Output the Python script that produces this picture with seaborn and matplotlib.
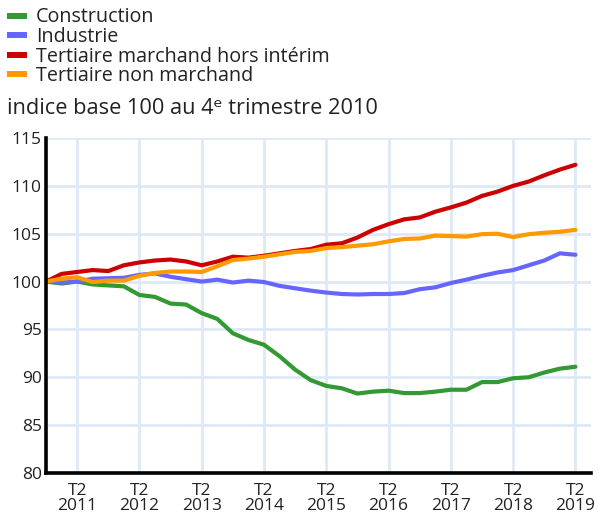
import matplotlib
matplotlib.use("Agg")
import matplotlib.pyplot as plt
import seaborn as sns
import pandas as pd
from matplotlib.patches import Rectangle

# ---- data (quarterly index, base 100 = Q4 2010) ----
quarters = list(range(35))  # 0 = T4 2010 ... 34 = T2 2019
construction = [100.0, 99.8, 100.0, 99.7, 99.6, 99.5, 98.6, 98.4, 97.7, 97.6,
                96.7, 96.1, 94.6, 93.9, 93.4, 92.2, 90.8, 89.7, 89.1, 88.85,
                88.3, 88.5, 88.6, 88.35, 88.35, 88.5, 88.7, 88.7, 89.5, 89.5,
                89.9, 90.0, 90.5, 90.9, 91.1]
industrie = [100.0, 99.9, 100.0, 100.3, 100.35, 100.4, 100.7, 100.85, 100.5, 100.25,
             100.0, 100.2, 99.9, 100.1, 99.95, 99.55, 99.3, 99.05, 98.85, 98.7,
             98.65, 98.7, 98.7, 98.8, 99.2, 99.4, 99.85, 100.2, 100.6, 100.95,
             101.2, 101.7, 102.2, 102.95, 102.8]
tertiaire_marchand = [100.0, 100.8, 101.0, 101.2, 101.1, 101.7, 102.0, 102.2, 102.3, 102.1,
                      101.7, 102.1, 102.6, 102.5, 102.7, 102.95, 103.2, 103.4, 103.85, 104.0,
                      104.6, 105.4, 106.0, 106.5, 106.7, 107.3, 107.75, 108.25, 108.95, 109.4,
                      110.0, 110.45, 111.1, 111.7, 112.2]
tertiaire_non_marchand = [100.0, 100.3, 100.45, 99.95, 100.1, 100.1, 100.6, 100.9, 101.05, 101.05,
                          101.0, 101.6, 102.25, 102.4, 102.6, 102.85, 103.1, 103.2, 103.5, 103.6,
                          103.75, 103.9, 104.2, 104.45, 104.5, 104.8, 104.75, 104.7, 104.95, 105.0,
                          104.65, 104.95, 105.1, 105.2, 105.4]
series_names = ["Construction", "Industrie", "Tertiaire marchand hors intérim",
                "Tertiaire non marchand"]
colors = ["#339933", "#6666ff", "#cc0000", "#ff9900"]
xtick_pos = [2, 6, 10, 14, 18, 22, 26, 30, 34]
xtick_labels = ["T2\n2011", "T2\n2012", "T2\n2013", "T2\n2014", "T2\n2015",
                "T2\n2016", "T2\n2017", "T2\n2018", "T2\n2019"]
ytick_vals = [80, 85, 90, 95, 100, 105, 110, 115]
title = "indice base 100 au 4ᵉ trimestre 2010"

# ---- build long table ----
all_vals = [construction, industrie, tertiaire_marchand, tertiaire_non_marchand]
rows = []
for name, vals in zip(series_names, all_vals):
    for q, v in zip(quarters, vals):
        rows.append({"q": q, "v": v, "serie": name})
df = pd.DataFrame(rows)

sns.set_style("white")
plt.rcParams["font.family"] = ["Open Sans", "DejaVu Sans"]

W, H = 598, 522
fig = plt.figure(figsize=(W / 100, H / 100), dpi=100)
ax = fig.add_axes([46 / W, (H - 473) / H, 545 / W, 335 / H])

sns.lineplot(data=df, x="q", y="v", hue="serie", hue_order=series_names,
             palette=colors, linewidth=3.0, legend=False, ax=ax, zorder=3)

ax.set_xlim(0, 35)
ax.set_ylim(80, 115)
ax.set_xticks(xtick_pos)
ax.set_xticklabels(xtick_labels, fontsize=12.5, color="#222222", linespacing=0.92)
ax.set_yticks(ytick_vals)
ax.set_yticklabels([str(v) for v in ytick_vals], fontsize=12.5, color="#222222")
ax.tick_params(axis="both", length=0)
ax.tick_params(axis="x", pad=7)
ax.tick_params(axis="y", pad=3)
ax.set_xlabel("")
ax.set_ylabel("")

ax.grid(True, color="#dde9f6", linewidth=2.0, zorder=0)
ax.set_axisbelow(True)
for s in ["top", "right"]:
    ax.spines[s].set_visible(False)
for s in ["left", "bottom"]:
    ax.spines[s].set_color("black")
    ax.spines[s].set_linewidth(2.6)
    ax.spines[s].set_zorder(5)

# ---- legend (manual, figure coords in pixels) ----
row_centers = [15.5, 35.0, 54.5, 74.0]
for name, col, yc in zip(series_names, colors, row_centers):
    fig.add_artist(Rectangle((7 / W, 1 - (yc + 3) / H), 20 / W, 6 / H,
                             transform=fig.transFigure, color=col, lw=0))
    fig.text(36 / W, 1 - (yc + 7.0) / H, name, fontsize=14.2, color="#222222",
             va="baseline", ha="left")

fig.text(7 / W, 1 - 113.5 / H, title, fontsize=15.7, color="#222222",
         va="baseline", ha="left")

fig.savefig("out.png", dpi=100)
